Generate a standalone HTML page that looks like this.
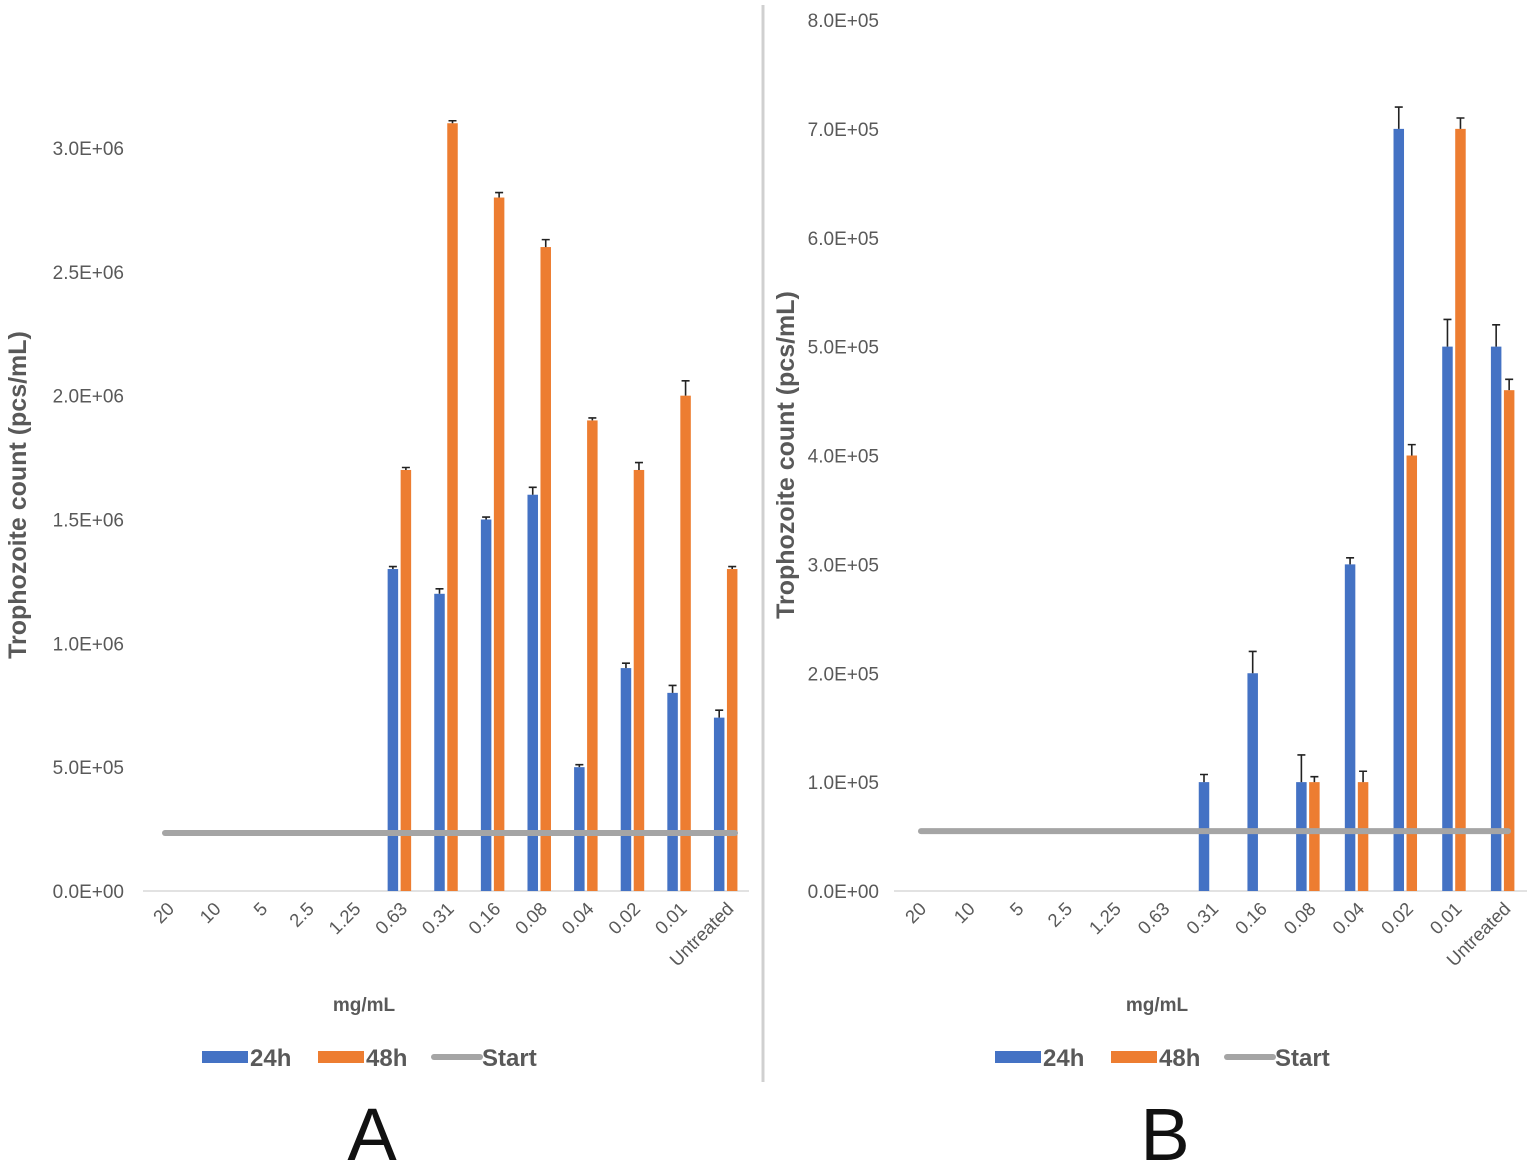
<!DOCTYPE html>
<html><head><meta charset="utf-8"><style>
body{margin:0;background:#fff;}
svg{display:block;font-family:"Liberation Sans",Arial,sans-serif;}
</style></head><body>
<svg id="c" width="1536" height="1168"></svg>
<script>
const categories = ["20","10","5","2.5","1.25","0.63","0.31","0.16","0.08","0.04","0.02","0.01","Untreated"];
const a24 = [0,0,0,0,0,1.3e6,1.2e6,1.5e6,1.6e6,0.5e6,0.9e6,0.8e6,0.7e6];
const a24err = [0,0,0,0,0,0.01e6,0.02e6,0.01e6,0.03e6,0.01e6,0.02e6,0.03e6,0.03e6];
const a48 = [0,0,0,0,0,1.7e6,3.1e6,2.8e6,2.6e6,1.9e6,1.7e6,2.0e6,1.3e6];
const a48err = [0,0,0,0,0,0.01e6,0.01e6,0.02e6,0.03e6,0.01e6,0.03e6,0.06e6,0.01e6];
const aStart = 2.34e5;
const aTicks = [0,5e5,1e6,1.5e6,2e6,2.5e6,3e6];
const aTickLabels = ["0.0E+00","5.0E+05","1.0E+06","1.5E+06","2.0E+06","2.5E+06","3.0E+06"];
const b24 = [0,0,0,0,0,0,1.0e5,2.0e5,1.0e5,3.0e5,7.0e5,5.0e5,5.0e5];
const b24err = [0,0,0,0,0,0,0.07e5,0.2e5,0.25e5,0.06e5,0.2e5,0.25e5,0.2e5];
const b48 = [0,0,0,0,0,0,0,0,1.0e5,1.0e5,4.0e5,7.0e5,4.6e5];
const b48err = [0,0,0,0,0,0,0,0,0.05e5,0.1e5,0.1e5,0.1e5,0.1e5];
const bStart = 0.55e5;
const bTicks = [0,1e5,2e5,3e5,4e5,5e5,6e5,7e5,8e5];
const bTickLabels = ["0.0E+00","1.0E+05","2.0E+05","3.0E+05","4.0E+05","5.0E+05","6.0E+05","7.0E+05","8.0E+05"];

const svg = document.getElementById('c');
const NS = 'http://www.w3.org/2000/svg';
function mk(tag, attrs, parent){const e=document.createElementNS(NS,tag);for(const k in attrs)e.setAttribute(k,attrs[k]);(parent||svg).appendChild(e);return e;}

function chart(cfg){
  const g = mk('g',{});
  
  
  const y = v => cfg.y0 - (v/cfg.ymax)*(cfg.y0-cfg.ytop);
  const bw = (cfg.x1-cfg.x0)/categories.length;
  const cx = i => cfg.x0 + bw*(i+0.5);
  const ax = mk('line',{x1:cfg.x0,x2:cfg.x1,y1:cfg.y0,y2:cfg.y0,stroke:'#d9d9d9','stroke-width':1.5},g);
  
  
  cfg.ticks.forEach((t,i)=>{
    const tx = mk('text',{x:cfg.lx,y:y(t)+7,'text-anchor':'end','font-size':19,fill:'#595959'},g);
    tx.textContent = cfg.tickLabels[i];
    
    
  });
  categories.forEach((c,i)=>{
    const tx = mk('text',{x:0,y:0,'text-anchor':'end','font-size':18.5,fill:'#595959',transform:`translate(${cx(i)+9},${cfg.y0+19}) rotate(-45)`},g);
    tx.textContent = c;
    
    
  });
  const w = 10.5;
  function bars(vals, errs, color, off, nm){
    vals.forEach((v,i)=>{
      if(!v) return;
      const x = cx(i)+off;
      const r = mk('rect',{x:x-w/2,y:y(v),width:w,height:cfg.y0-y(v),fill:color},g);
      
      
      const ye = y(v+errs[i]);
      const e = mk('path',{d:`M${x} ${y(v)}V${ye}M${x-4} ${ye}H${x+4}`,stroke:'#222','stroke-width':1.6,fill:'none'},g);
      
      
    });
  }
  bars(cfg.s24, cfg.e24, '#4472c4', -6.5, 'h24');
  bars(cfg.s48, cfg.e48, '#ed7d31', 6.5, 'h48');
  const st = mk('line',{x1:cfg.sx0,x2:cfg.sx1,y1:y(cfg.start),y2:y(cfg.start),stroke:'#a5a5a5','stroke-width':6,'stroke-linecap':'round'},g);
  
  
  const yt = mk('text',{x:0,y:0,'text-anchor':'middle','font-size':25,'font-weight':'bold',fill:'#595959',transform:`translate(${cfg.ytx},${cfg.yty}) rotate(-90)`},g);
  yt.textContent = 'Trophozoite count (pcs/mL)';
  
  
  const xt = mk('text',{x:cfg.xtx,y:1011,'text-anchor':'middle','font-size':19,'font-weight':'bold',fill:'#595959'},g);
  xt.textContent = 'mg/mL';
  
  
  const lg = mk('g',{},g);
  
  
  const items=[['24h','#4472c4',0],['48h','#ed7d31',116],['Start','#a5a5a5',232]];
  items.forEach(([t,col,dx])=>{
    const lx = cfg.legx+dx;
    const sw = t==='Start' ? mk('line',{x1:lx,x2:lx+46,y1:1057,y2:1057,stroke:col,'stroke-width':6,'stroke-linecap':'round'},lg) : mk('rect',{x:lx,y:1051,width:46,height:12,fill:col},lg);
    
    
    const tx = mk('text',{x:lx+48,y:1066,'font-size':24,'font-weight':'bold',fill:'#595959'},lg);
    tx.textContent=t;
    
    
  });
  const L = mk('text',{x:cfg.xtx+8,y:1160,'text-anchor':'middle','font-size':74,fill:'#111'},g);
  L.textContent = cfg.letter;
  
  
}
chart({name:'chart-a',x0:143,x1:749,y0:891,ytop:148,ymax:3e6,lx:124,ticks:aTicks,tickLabels:aTickLabels,s24:a24,e24:a24err,s48:a48,e48:a48err,start:aStart,sx0:165,sx1:735,ytx:26,yty:495,xtx:364,legx:202,letter:'A'});
chart({name:'chart-b',x0:894,x1:1527,y0:891,ytop:20,ymax:8e5,lx:879,ticks:bTicks,tickLabels:bTickLabels,s24:b24,e24:b24err,s48:b48,e48:b48err,start:bStart,sx0:921,sx1:1508,ytx:794,yty:455,xtx:1157,legx:995,letter:'B'});
const d = mk('line',{x1:763,x2:763,y1:5,y2:1082,stroke:'#d0d0d0','stroke-width':3});


</script>
</body></html>
